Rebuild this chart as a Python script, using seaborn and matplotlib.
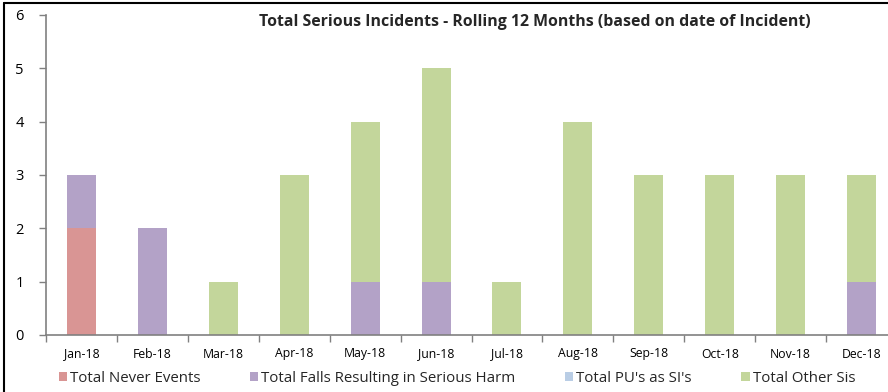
import numpy as np
import pandas as pd
import matplotlib
matplotlib.use("Agg")
import matplotlib.pyplot as plt
import seaborn as sns
from matplotlib.patches import Patch
from matplotlib.lines import Line2D

months = ["Jan-18", "Feb-18", "Mar-18", "Apr-18", "May-18", "Jun-18",
          "Jul-18", "Aug-18", "Sep-18", "Oct-18", "Nov-18", "Dec-18"]
never_events = [2, 0, 0, 0, 0, 0, 0, 0, 0, 0, 0, 0]
falls_harm = [1, 2, 0, 0, 1, 1, 0, 0, 0, 0, 0, 1]
pu_si = [0, 0, 0, 0, 0, 0, 0, 0, 0, 0, 0, 0]
other_si = [0, 0, 1, 3, 3, 4, 1, 4, 3, 3, 3, 2]

series = ["Total Never Events", "Total Falls Resulting in Serious Harm",
          "Total PU's as SI's", "Total Other Sis"]
colors = ["#D99594", "#B3A2C7", "#B9CDE5", "#C3D69B"]

df = pd.DataFrame({"month": months, series[0]: never_events, series[1]: falls_harm,
                   series[2]: pu_si, series[3]: other_si})

sns.set_style("white")
plt.rcParams["font.family"] = ["Open Sans", "DejaVu Sans"]

fig = plt.figure(figsize=(8.88, 3.92), dpi=100)
ax = fig.add_axes([46 / 888, 57 / 392, 851 / 888, 320 / 392])

# stacked by drawing cumulative totals from the top layer down
cum = df[series].cumsum(axis=1)
for name, col in reversed(list(zip(series, colors))):
    sns.barplot(x=df["month"], y=cum[name], color=col, width=0.41,
                saturation=1, linewidth=0, edgecolor="none", ax=ax, zorder=2)

ax.set_xlim(-0.5, 11.5)
ax.set_ylim(0, 6)
ax.set_yticks(range(7))
ax.set_xlabel("")
ax.set_ylabel("")
ax.set_xticks(np.arange(-0.5, 12, 1), minor=True)
ax.tick_params(axis="x", which="major", bottom=False, length=0, pad=9, labelsize=8.8,
               colors="black")
ax.tick_params(axis="x", which="minor", bottom=True, length=5, width=1, color="#808080",
               direction="out")
ax.tick_params(axis="y", left=True, length=5, width=1, color="#808080", direction="out",
               pad=11, labelsize=10.5, labelcolor="black")
for s in ["top", "right"]:
    ax.spines[s].set_visible(False)
for s in ["left", "bottom"]:
    ax.spines[s].set_color("#808080")
    ax.spines[s].set_linewidth(1.2)

fig.text(535 / 888, 1 - 22 / 392, "Total Serious Incidents - Rolling 12 Months (based on date of Incident)",
         ha="center", va="center", fontsize=11.4, fontweight="bold")

handles = [Patch(facecolor=c, edgecolor="none") for c in colors]
fig.legend(handles, series, loc="center", bbox_to_anchor=(457 / 888, 1 - 378 / 392), ncol=4,
           frameon=False, fontsize=10.8, handlelength=0.55, handleheight=0.55,
           handletextpad=0.2, columnspacing=3.3)

# outer border of the chart area (left and top edges visible)
fig.add_artist(Line2D([4 / 888, 4 / 888], [0, 1 - 3 / 392], color="black", lw=1.5,
                      transform=fig.transFigure))
fig.add_artist(Line2D([4 / 888, 1], [1 - 3 / 392, 1 - 3 / 392], color="black", lw=1.5,
                      transform=fig.transFigure))

fig.savefig("out.png", dpi=100)
